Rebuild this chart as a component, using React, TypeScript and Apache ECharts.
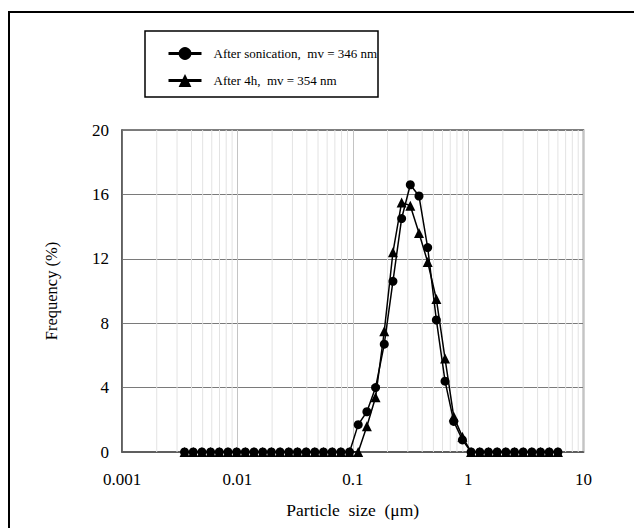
import React, { useEffect, useRef } from "react";
import * as echarts from "echarts";

// Particle size bins (µm)
const sizeBins = [
  0.003485, 0.004144, 0.004929, 0.005861, 0.00697, 0.008289, 0.009857, 0.01172,
  0.01394, 0.01658, 0.01971, 0.02344, 0.02788, 0.03316, 0.03943, 0.04689,
  0.05576, 0.06631, 0.07886, 0.09378, 0.1115, 0.1326, 0.1577, 0.1876,
  0.223, 0.2652, 0.3154, 0.3751, 0.4461, 0.5305, 0.6308, 0.7502,
  0.8922, 1.061, 1.262, 1.5, 1.784, 2.122, 2.523, 3.0,
  3.568, 4.243, 5.046, 6.001,
];

// Frequency (%) after sonication
const freqSonication = [
  0, 0, 0, 0, 0, 0, 0, 0, 0, 0, 0, 0, 0, 0, 0, 0, 0, 0, 0, 0,
  1.7, 2.5, 4.0, 6.7, 10.6, 14.5, 16.6, 15.9, 12.7, 8.2, 4.4, 1.9, 0.75,
  0, 0, 0, 0, 0, 0, 0, 0, 0, 0, 0,
];

// Frequency (%) after 4h
const freqAfter4h = [
  0, 0, 0, 0, 0, 0, 0, 0, 0, 0, 0, 0, 0, 0, 0, 0, 0, 0, 0, 0,
  0, 1.6, 3.4, 7.5, 12.4, 15.5, 15.3, 13.6, 11.8, 9.5, 5.8, 2.2, 0.95,
  0, 0, 0, 0, 0, 0, 0, 0, 0, 0, 0,
];

const seriesNames = ["After sonication,  mv = 346 nm", "After 4h,  mv = 354 nm"];

// minor log gridlines
const minorGridValues = [
  0.002, 0.003, 0.004, 0.005, 0.006, 0.007, 0.008, 0.009,
  0.02, 0.03, 0.04, 0.05, 0.06, 0.07, 0.08, 0.09,
  0.2, 0.3, 0.4, 0.5, 0.6, 0.7, 0.8, 0.9,
  2, 3, 4, 5, 6, 7, 8, 9,
];

const FONT = "'Liberation Serif', 'Times New Roman', serif";

export default function App() {
  const ref = useRef<HTMLDivElement>(null);
  useEffect(() => {
    if (!ref.current) return;
    const chart = echarts.init(ref.current, undefined, { renderer: "svg" });
    chart.setOption({
      animation: false,
      backgroundColor: "#ffffff",
      textStyle: { fontFamily: FONT, color: "#000" },
      grid: {
        left: 122,
        right: 50.5,
        top: 130,
        bottom: 76,
        show: true,
        borderColor: "#555",
        borderWidth: 1.5,
        backgroundColor: "transparent",
      },
      legend: {
        data: seriesNames,
        orient: "vertical",
        left: 167,
        top: 47,
        padding: 0,
        itemGap: 14,
        itemWidth: 33,
        itemHeight: 16,
        lineStyle: { width: 3, color: "#000" },
        textStyle: { fontFamily: FONT, fontSize: 13, color: "#000", padding: [0, 0, 0, 7] },
        selectedMode: false,
      },
      xAxis: {
        type: "log",
        logBase: 10,
        min: 0.001,
        max: 10,
        name: "Particle  size  (μm)",
        nameLocation: "middle",
        nameGap: 49,
        nameTextStyle: { fontFamily: FONT, fontSize: 17.5, color: "#000" },
        axisLine: { show: true, lineStyle: { color: "#555", width: 1.5 } },
        axisTick: { show: false },
        axisLabel: {
          fontFamily: FONT,
          fontSize: 17,
          color: "#000",
          margin: 19,
          formatter: (v: number) => String(+v.toPrecision(3)),
        },
        splitLine: { show: true, lineStyle: { color: "#c4c4c4", width: 1 } },
      },
      yAxis: {
        type: "value",
        min: 0,
        max: 20,
        interval: 4,
        name: "Frequency (%)",
        nameLocation: "middle",
        nameGap: 62,
        nameTextStyle: { fontFamily: FONT, fontSize: 16.5, color: "#000" },
        axisLine: { show: true, lineStyle: { color: "#555", width: 1.5 } },
        axisTick: { show: false },
        axisLabel: { fontFamily: FONT, fontSize: 17, color: "#000", margin: 13 },
        splitLine: { show: true, lineStyle: { color: "#7a7a7a", width: 1.2 } },
      },
      graphic: [
        {
          type: "rect",
          shape: { x: 145, y: 31, width: 233, height: 66 },
          style: { fill: "none", stroke: "#000", lineWidth: 1.5 },
          z: 10,
        },
        {
          type: "line",
          shape: { x1: 9, y1: 12, x2: 9, y2: 528 },
          style: { stroke: "#000", lineWidth: 2 },
        },
        {
          type: "line",
          shape: { x1: 8, y1: 12, x2: 634, y2: 12 },
          style: { stroke: "#000", lineWidth: 2 },
        },
      ],
      series: [
        {
          type: "custom",
          name: "minorGrid",
          silent: true,
          z: 1,
          data: minorGridValues.map((v) => [v]),
          renderItem: (params: any, api: any) => {
            const x = api.coord([api.value(0), 0])[0];
            const cs = params.coordSys;
            return {
              type: "line",
              shape: { x1: x, y1: cs.y, x2: x, y2: cs.y + cs.height },
              style: { stroke: "#e3e3e3", lineWidth: 1 },
            };
          },
        },
        {
          type: "line",
          name: seriesNames[0],
          data: sizeBins.map((s, i) => [s, freqSonication[i]]),
          symbol: "circle",
          symbolSize: 9,
          z: 3,
          itemStyle: { color: "#000" },
          lineStyle: { color: "#000", width: 1.5 },
        },
        {
          type: "line",
          name: seriesNames[1],
          data: sizeBins.map((s, i) => [s, freqAfter4h[i]]),
          symbol: "triangle",
          symbolSize: 10,
          z: 3,
          itemStyle: { color: "#000" },
          lineStyle: { color: "#000", width: 1.5 },
        },
      ],
    });
    return () => chart.dispose();
  }, []);
  return (
    <div
      ref={ref}
      style={{ position: "fixed", left: 0, top: 0, width: 634, height: 528, background: "#fff" }}
    />
  );
}
